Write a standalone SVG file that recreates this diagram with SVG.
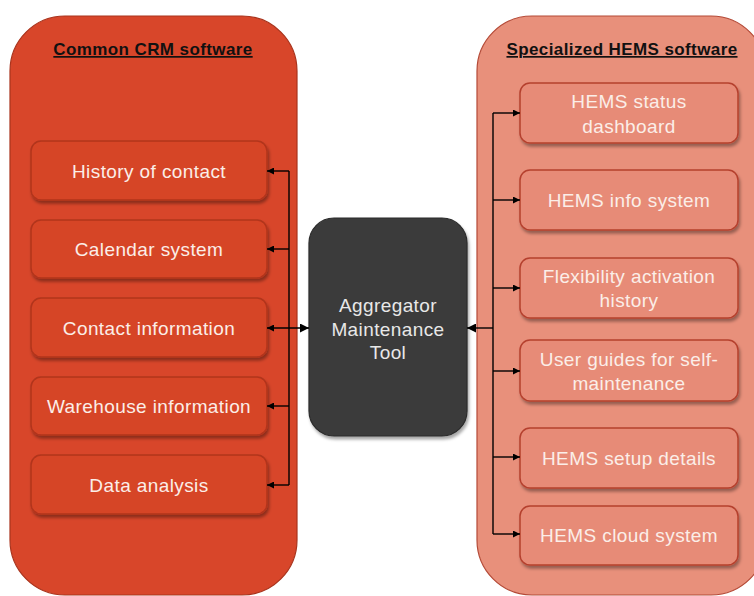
<svg xmlns="http://www.w3.org/2000/svg" width="754" height="596" viewBox="0 0 754 596">
<defs>
<filter id="sh" x="-10%" y="-20%" width="125%" height="150%">
<feDropShadow dx="1.5" dy="3" stdDeviation="1.8" flood-color="#000" flood-opacity="0.35"/>
</filter>
<marker id="ah" viewBox="0 0 10 10" refX="10" refY="5" markerWidth="7" markerHeight="7" markerUnits="userSpaceOnUse" orient="auto-start-reverse">
<path d="M0,0 L10,5 L0,10 z" fill="#000"/>
</marker>
<marker id="ahb" viewBox="0 0 10 10" refX="10" refY="5" markerWidth="9" markerHeight="9" markerUnits="userSpaceOnUse" orient="auto-start-reverse">
<path d="M0,0 L10,5 L0,10 z" fill="#000"/>
</marker>
</defs>
<style>
.cl{fill:#d8462a;stroke:#a9341d;stroke-width:1.2}
.cr{fill:#e8907b;stroke:#b44a37;stroke-width:1.2}
.bl{fill:#d64426;stroke:#b1341b;stroke-width:1.5}
.br{fill:#e78b77;stroke:#b5402d;stroke-width:1.5}
.t{font-family:"Liberation Sans",Arial,sans-serif;font-size:19px;letter-spacing:0.4px;fill:#fbeee8;text-anchor:middle}
.h{font-family:"Liberation Sans",Arial,sans-serif;font-size:17px;font-weight:bold;letter-spacing:0.4px;fill:#111;text-anchor:middle;text-decoration:underline}
.c{stroke:#000;stroke-width:1.4;fill:none}
</style>
<g id="crm">
<rect class="cl" x="10" y="16" width="287" height="579" rx="55"/>
<text class="h" x="153" y="55">Common CRM software</text>
</g>
<g id="hems">
<rect class="cr" x="477" y="16" width="289" height="579" rx="55"/>
<text class="h" x="622" y="55">Specialized HEMS software</text>
</g>
<g id="history"><rect class="bl" filter="url(#sh)" x="31" y="141" width="236" height="59" rx="10"/><text class="t" x="149" y="178">History of contact</text></g>
<g id="calendar"><rect class="bl" filter="url(#sh)" x="31" y="220" width="236" height="58" rx="10"/><text class="t" x="149" y="256">Calendar system</text></g>
<g id="contact"><rect class="bl" filter="url(#sh)" x="31" y="298" width="236" height="59" rx="10"/><text class="t" x="149" y="335">Contact information</text></g>
<g id="warehouse"><rect class="bl" filter="url(#sh)" x="31" y="377" width="236" height="58" rx="10"/><text class="t" x="149" y="413">Warehouse information</text></g>
<g id="data"><rect class="bl" filter="url(#sh)" x="31" y="455" width="236" height="59" rx="10"/><text class="t" x="149" y="492">Data analysis</text></g>
<g id="tool"><rect x="309" y="218" width="158" height="218" rx="25" fill="#3b3b3b" stroke="#2a2a2a" stroke-width="1.2" filter="url(#sh)"/>
<text class="t" x="388" y="312" style="fill:#e8e8e8">Aggregator</text>
<text class="t" x="388" y="335.5" style="fill:#e8e8e8">Maintenance</text>
<text class="t" x="388" y="359" style="fill:#e8e8e8">Tool</text></g>
<g id="status"><rect class="br" filter="url(#sh)" x="520" y="83" width="218" height="60" rx="10"/><text class="t" x="629" y="108">HEMS status</text><text class="t" x="629" y="133">dashboard</text></g>
<g id="info"><rect class="br" filter="url(#sh)" x="520" y="170" width="218" height="60" rx="10"/><text class="t" x="629" y="207">HEMS info system</text></g>
<g id="flex"><rect class="br" filter="url(#sh)" x="520" y="258" width="218" height="60" rx="10"/><text class="t" x="629" y="283">Flexibility activation</text><text class="t" x="629" y="307">history</text></g>
<g id="guides"><rect class="br" filter="url(#sh)" x="520" y="340" width="218" height="61" rx="10"/><text class="t" x="629" y="366">User guides for self-</text><text class="t" x="629" y="390">maintenance</text></g>
<g id="setup"><rect class="br" filter="url(#sh)" x="520" y="428" width="218" height="60" rx="10"/><text class="t" x="629" y="465">HEMS setup details</text></g>
<g id="cloud"><rect class="br" filter="url(#sh)" x="520" y="506" width="218" height="59" rx="10"/><text class="t" x="629" y="542">HEMS cloud system</text></g>
<g id="connectors">
<path class="c" d="M289,171 V485"/>
<path class="c" d="M289,171 H267" marker-end="url(#ah)"/>
<path class="c" d="M289,249 H267" marker-end="url(#ah)"/>
<path class="c" d="M289,406 H267" marker-end="url(#ah)"/>
<path class="c" d="M289,485 H267" marker-end="url(#ah)"/>
<path class="c" d="M267,328 H309" marker-start="url(#ah)" marker-end="url(#ahb)"/>
<path class="c" d="M493,113 V534"/>
<path class="c" d="M493,328 H467" stroke-width="1.8" marker-end="url(#ahb)"/>
<path class="c" d="M493,113 H520" marker-end="url(#ah)"/>
<path class="c" d="M493,200 H520" marker-end="url(#ah)"/>
<path class="c" d="M493,288 H520" marker-end="url(#ah)"/>
<path class="c" d="M493,371 H520" marker-end="url(#ah)"/>
<path class="c" d="M493,457 H520" marker-end="url(#ah)"/>
<path class="c" d="M493,534 H520" marker-end="url(#ah)"/>
</g>
</svg>
